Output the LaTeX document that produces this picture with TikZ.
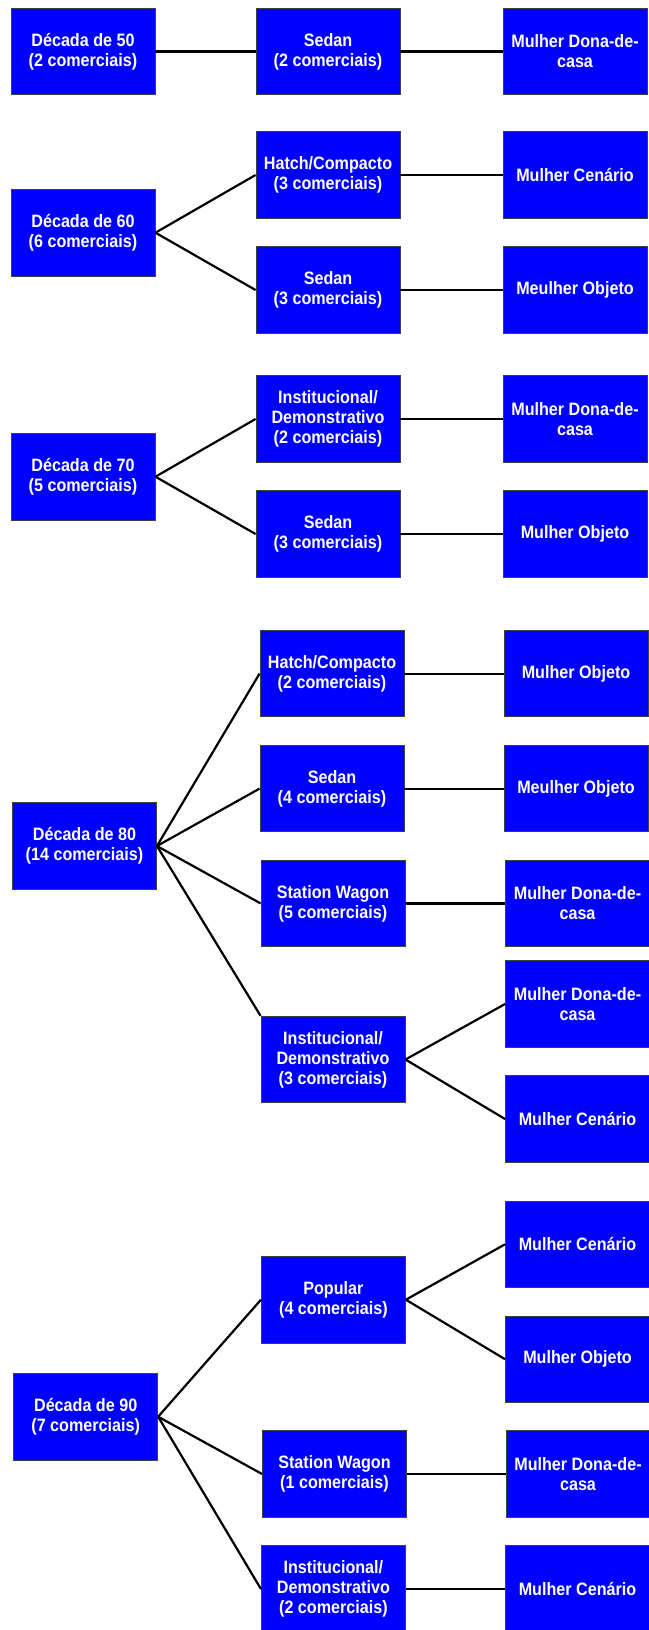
\documentclass[tikz,border=0pt]{standalone}
\usepackage{fontspec}
\setmainfont{Liberation Sans}[FakeStretch=0.9]
\definecolor{boxblue}{RGB}{0,0,255}
\begin{document}
\begin{tikzpicture}[x=1bp,y=-1bp,
  bx/.style={draw=black!75,line width=0.9bp,fill=boxblue,text=white,
    minimum width=144bp,minimum height=86.5bp,inner sep=0pt,align=center,
    font=\bfseries\fontsize{18}{20}\selectfont},
  cn/.style={line width=2.2bp,black}]
\useasboundingbox (0,0) rectangle (649,1630);
% row 1
\node[bx] (d50) at (83,51.5) {Década de 50\\(2 comerciais)};
\node[bx] (s50) at (328,51.5) {Sedan\\(2 comerciais)};
\node[bx] (m50) at (575,51.5) {Mulher Dona-de-\\casa};
% row 2
\node[bx] (d60) at (83,232.7) {Década de 60\\(6 comerciais)};
\node[bx] (h60) at (328,175) {Hatch/Compacto\\(3 comerciais)};
\node[bx] (s60) at (328,290) {Sedan\\(3 comerciais)};
\node[bx] (mc60) at (575,175) {Mulher Cenário};
\node[bx] (mo60) at (575,290) {Meulher Objeto};
% row 3
\node[bx] (d70) at (83,476.7) {Década de 70\\(5 comerciais)};
\node[bx] (i70) at (328,419) {Institucional/\\Demonstrativo\\(2 comerciais)};
\node[bx] (s70) at (328,534) {Sedan\\(3 comerciais)};
\node[bx] (md70) at (575,419) {Mulher Dona-de-\\casa};
\node[bx] (mo70) at (575,534) {Mulher Objeto};
% row 4
\node[bx] (d80) at (84.5,846) {Década de 80\\(14 comerciais)};
\node[bx] (h80) at (332,673.6) {Hatch/Compacto\\(2 comerciais)};
\node[bx] (s80) at (332,788.6) {Sedan\\(4 comerciais)};
\node[bx] (w80) at (333,903.4) {Station Wagon\\(5 comerciais)};
\node[bx] (i80) at (333,1059.5) {Institucional/\\Demonstrativo\\(3 comerciais)};
\node[bx] (mo80) at (576,673.6) {Mulher Objeto};
\node[bx] (meo80) at (576,788.6) {Meulher Objeto};
\node[bx] (md80) at (577.5,903.4) {Mulher Dona-de-\\casa};
\node[bx] (mdb80) at (577.5,1004) {Mulher Dona-de-\\casa};
\node[bx] (mc80) at (577.5,1119) {Mulher Cenário};
% row 5
\node[bx] (d90) at (85.7,1416.7) {Década de 90\\(7 comerciais)};
\node[bx] (p90) at (333.4,1299.7) {Popular\\(4 comerciais)};
\node[bx] (w90) at (334.5,1474) {Station Wagon\\(1 comerciais)};
\node[bx] (i90) at (333.4,1589) {Institucional/\\Demonstrativo\\(2 comerciais)};
\node[bx] (mc90) at (577.5,1244.3) {Mulher Cenário};
\node[bx] (mo90) at (577.5,1359.2) {Mulher Objeto};
\node[bx] (md90) at (578,1474) {Mulher Dona-de-\\casa};
\node[bx] (mcb90) at (577.5,1589) {Mulher Cenário};
% connectors
\draw[cn] (d50.east) -- (s50.west);
\draw[cn] (s50.east) -- (m50.west);
\draw[cn] (d60.east) -- (h60.west);
\draw[cn] (d60.east) -- (s60.west);
\draw[cn] (h60.east) -- (mc60.west);
\draw[cn] (s60.east) -- (mo60.west);
\draw[cn] (d70.east) -- (i70.west);
\draw[cn] (d70.east) -- (s70.west);
\draw[cn] (i70.east) -- (md70.west);
\draw[cn] (s70.east) -- (mo70.west);
\draw[cn] (d80.east) -- (h80.west);
\draw[cn] (d80.east) -- (s80.west);
\draw[cn] (d80.east) -- (w80.west);
\draw[cn] (d80.east) -- (i80.north west);
\draw[cn] (h80.east) -- (mo80.west);
\draw[cn] (s80.east) -- (meo80.west);
\draw[cn] (w80.east) -- (md80.west);
\draw[cn] (i80.east) -- (mdb80.west);
\draw[cn] (i80.east) -- (mc80.west);
\draw[cn] (d90.east) -- (p90.west);
\draw[cn] (d90.east) -- (w90.west);
\draw[cn] (d90.east) -- (i90.west);
\draw[cn] (p90.east) -- (mc90.west);
\draw[cn] (p90.east) -- (mo90.west);
\draw[cn] (w90.east) -- (md90.west);
\draw[cn] (i90.east) -- (mcb90.west);
\end{tikzpicture}
\end{document}
